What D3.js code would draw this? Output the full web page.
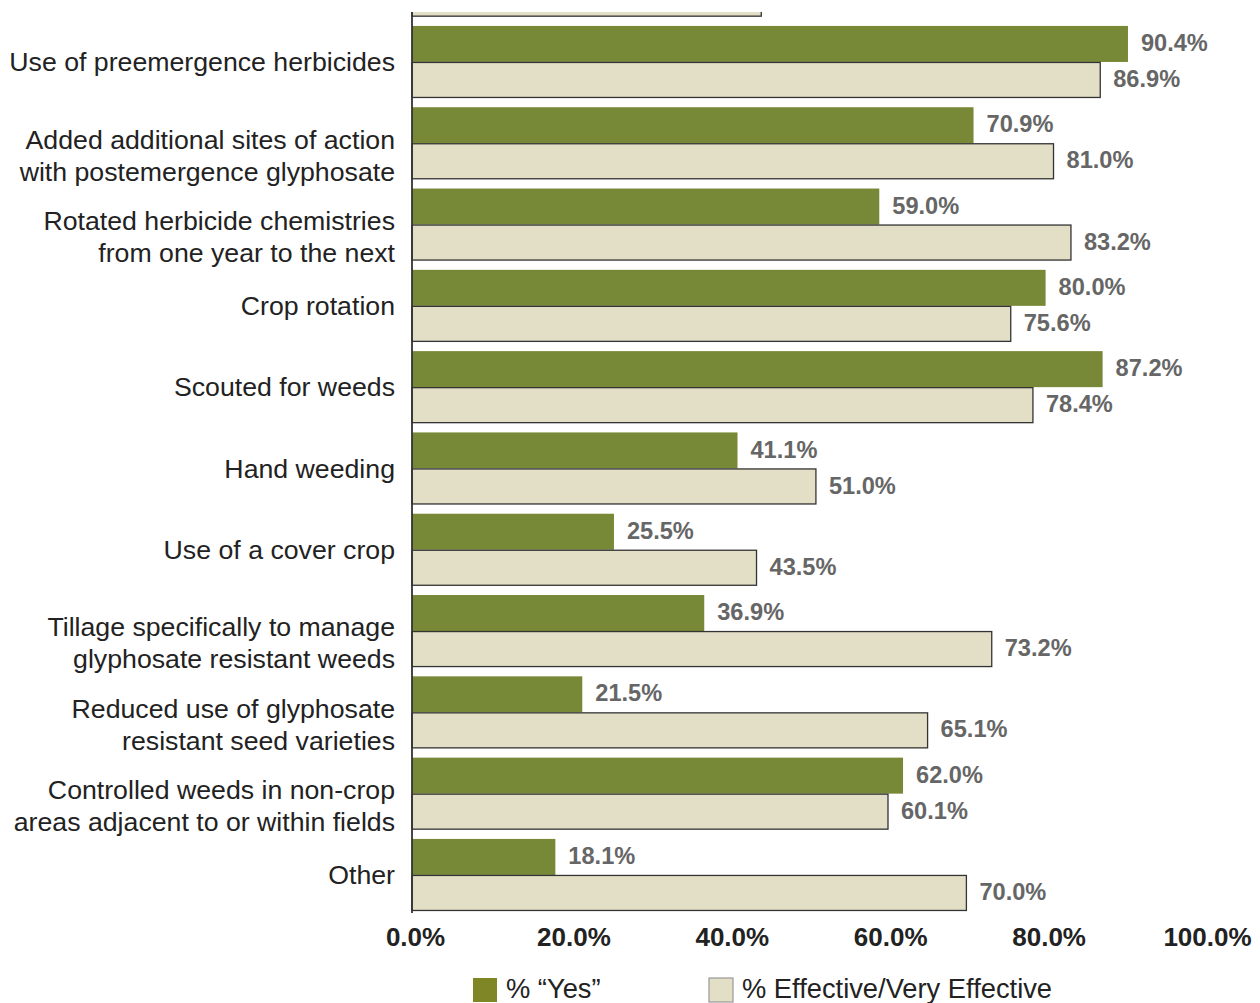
<!DOCTYPE html>
<html>
<head>
<meta charset="utf-8">
<script src="https://cdn.jsdelivr.net/npm/d3@7/dist/d3.min.js"></script>
<style>
  html, body { margin: 0; padding: 0; background: #fff; }
  svg { display: block; font-family: "Liberation Sans", Arial, Helvetica, sans-serif; }
</style>
</head>
<body>
<svg id="chart" width="1260" height="1003"></svg>
<script>
// Weed-management practices: share answering "Yes" and share rating it effective.
// The first row continues above the top of the plotting window.
const practiceLabels = [
  "",
  "Use of preemergence herbicides",
  "Added additional sites of action\nwith postemergence glyphosate",
  "Rotated herbicide chemistries\nfrom one year to the next",
  "Crop rotation",
  "Scouted for weeds",
  "Hand weeding",
  "Use of a cover crop",
  "Tillage specifically to manage\nglyphosate resistant weeds",
  "Reduced use of glyphosate\nresistant seed varieties",
  "Controlled weeds in non-crop\nareas adjacent to or within fields",
  "Other"
];
const pctYes       = [null, 90.4, 70.9, 59.0, 80.0, 87.2, 41.1, 25.5, 36.9, 21.5, 62.0, 18.1];
const pctEffective = [44.1, 86.9, 81.0, 83.2, 75.6, 78.4, 51.0, 43.5, 73.2, 65.1, 60.1, 70.0];
const xTickValues  = [0, 20, 40, 60, 80, 100];
const seriesNames  = ["% \u201CYes\u201D", "% Effective/Very Effective"];

const svg = d3.select("#chart");
const plotLeft = 412, plotRight = 1204, plotTop = 12, plotBottom = 913;

const x = d3.scaleLinear().domain([0, 100]).range([plotLeft, plotRight]);
const rows = d3.range(practiceLabels.length);
const y = d3.scaleBand().domain(rows).range([-60, 915.6]).paddingInner(0.114).paddingOuter(0.057);
const sub = d3.scaleBand().domain([0, 1]).range([0, y.bandwidth()]);

const colGreen = "#778837", colBeige = "#e3dec6";
const fmt = v => v.toFixed(1) + "%";

svg.append("clipPath").attr("id", "plotClip")
  .append("rect").attr("x", 0).attr("y", plotTop).attr("width", 1260).attr("height", plotBottom - plotTop + 2);

const plot = svg.append("g").attr("clip-path", "url(#plotClip)");

const series = [
  { values: pctYes, fill: colGreen, stroke: "none" },
  { values: pctEffective, fill: colBeige, stroke: "#333" }
];

series.forEach((s, si) => {
  const data = rows.filter(i => s.values[i] != null).map(i => ({ i, v: s.values[i] }));
  plot.selectAll(null).data(data).enter().append("rect")
    .attr("x", x(0))
    .attr("y", d => y(d.i) + sub(si) + (si === 1 ? 0.5 : 0))
    .attr("width", d => x(d.v) - x(0))
    .attr("height", sub.bandwidth() - (si === 1 ? 1 : 0))
    .attr("fill", s.fill)
    .attr("stroke", s.stroke)
    .attr("stroke-width", 1.3);
  plot.selectAll(null).data(data.filter(d => d.i > 0)).enter().append("text")
    .attr("x", d => x(d.v) + 13)
    .attr("y", d => y(d.i) + sub(si) + sub.bandwidth() / 2)
    .attr("dy", "0.3em")
    .attr("font-size", 23.6)
    .attr("font-weight", "bold")
    .attr("fill", "#666")
    .text(d => fmt(d.v));
});

// Category labels, right-aligned against the axis
const labelG = svg.append("g");
rows.filter(i => practiceLabels[i]).forEach(i => {
  const lines = practiceLabels[i].split("\n");
  const lineH = 32;
  const center = y(i) + y.bandwidth() / 2 + (lines.length > 1 ? 12 : 0);
  const t = labelG.append("text")
    .attr("text-anchor", "end")
    .attr("font-size", 26.7)
    .attr("fill", "#222");
  lines.forEach((ln, k) => {
    t.append("tspan")
      .attr("x", 395)
      .attr("y", center + (k - (lines.length - 1) / 2) * lineH)
      .attr("dy", "0.35em")
      .text(ln);
  });
});

// Vertical axis line
svg.append("line")
  .attr("x1", plotLeft).attr("x2", plotLeft)
  .attr("y1", plotTop).attr("y2", plotBottom)
  .attr("stroke", "#333").attr("stroke-width", 1.8);

// Percentage axis
const xAxis = d3.axisBottom(x).tickValues(xTickValues).tickSize(0).tickPadding(0)
  .tickFormat(v => v.toFixed(1) + "%");
const gx = svg.append("g").attr("transform", `translate(0,${plotBottom})`).call(xAxis);
gx.select(".domain").remove();
gx.selectAll("text")
  .attr("y", 24)
  .attr("dy", "0.35em")
  .attr("dx", 3)
  .attr("font-size", 26)
  .attr("font-weight", "bold")
  .attr("font-family", "\"Liberation Sans\", Arial, sans-serif")
  .attr("fill", "#222");

// Legend
const legend = svg.append("g");
const legendItems = [
  { name: seriesNames[0], x: 473, fill: "#7e8626", stroke: "none" },
  { name: seriesNames[1], x: 709, fill: colBeige, stroke: "#999" }
];
legendItems.forEach(it => {
  legend.append("rect")
    .attr("x", it.x).attr("y", 978).attr("width", 24).attr("height", 24)
    .attr("fill", it.fill).attr("stroke", it.stroke).attr("stroke-width", 1.2);
  legend.append("text")
    .attr("x", it.x + 33).attr("y", 998)
    .attr("font-size", 27.3).attr("fill", "#222")
    .text(it.name);
});
</script>
</body>
</html>
